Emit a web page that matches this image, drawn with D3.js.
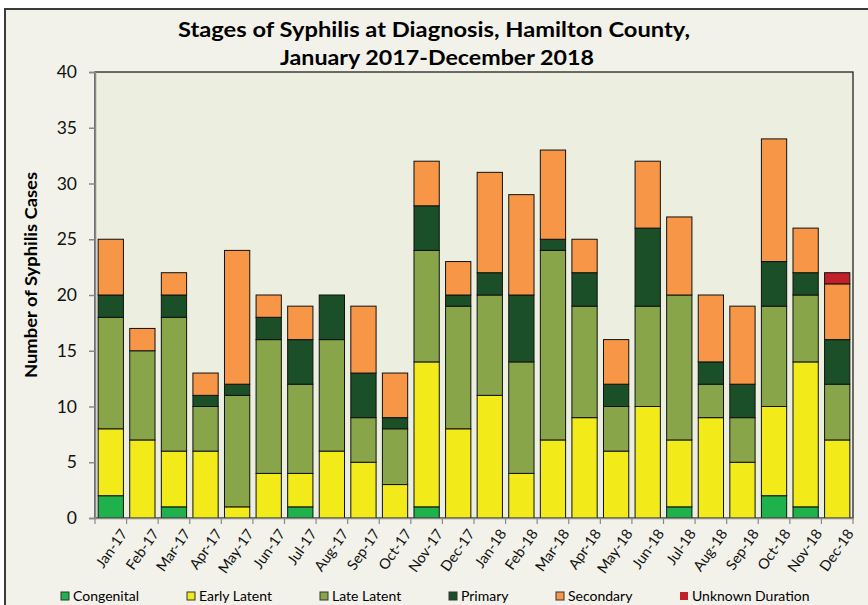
<!DOCTYPE html>
<html>
<head>
<meta charset="utf-8">
<script src="https://cdn.jsdelivr.net/npm/d3@7"></script>
<style>
    body { margin: 0; background: #ffffff; }
    svg { display: block; font-family: Lato, 'Open Sans', sans-serif; }
</style>
</head>
<body>
<div id="chart"></div>
<script>
// havi adatok, kategóriánként
const months = ['Jan-17', 'Feb-17', 'Mar-17', 'Apr-17', 'May-17', 'Jun-17', 'Jul-17', 'Aug-17',
    'Sep-17', 'Oct-17', 'Nov-17', 'Dec-17', 'Jan-18', 'Feb-18', 'Mar-18', 'Apr-18', 'May-18',
    'Jun-18', 'Jul-18', 'Aug-18', 'Sep-18', 'Oct-18', 'Nov-18', 'Dec-18'];

const congenital = [2, 0, 1, 0, 0, 0, 1, 0, 0, 0, 1, 0, 0, 0, 0, 0, 0, 0, 1, 0, 0, 2, 1, 0];
const earlyLatent = [6, 7, 5, 6, 1, 4, 3, 6, 5, 3, 13, 8, 11, 4, 7, 9, 6, 10, 6, 9, 5, 8, 13, 7];
const lateLatent = [10, 8, 12, 4, 10, 12, 8, 10, 4, 5, 10, 11, 9, 10, 17, 10, 4, 9, 13, 3, 4, 9, 6, 5];
const primary = [2, 0, 2, 1, 1, 2, 4, 4, 4, 1, 4, 1, 2, 6, 1, 3, 2, 7, 0, 2, 3, 4, 2, 4];
const secondary = [5, 2, 2, 2, 12, 2, 3, 0, 6, 4, 4, 3, 9, 9, 8, 3, 4, 6, 7, 6, 7, 11, 4, 5];
const unknownDuration = [0, 0, 0, 0, 0, 0, 0, 0, 0, 0, 0, 0, 0, 0, 0, 0, 0, 0, 0, 0, 0, 0, 0, 1];

const seriesNames = ['Congenital', 'Early Latent', 'Late Latent', 'Primary', 'Secondary', 'Unknown Duration'];
const seriesValues = [congenital, earlyLatent, lateLatent, primary, secondary, unknownDuration];
const seriesColors = ['#1eb14c', '#f2ea19', '#88a54a', '#1a4f27', '#f79646', '#c1202a'];
const yTicks = [0, 5, 10, 15, 20, 25, 30, 35, 40];

const W = 868, H = 605;
const margin = { top: 72, right: 15, bottom: 87, left: 95 };
const width = W - margin.left - margin.right;
const height = H - margin.top - margin.bottom;

// táblázat a stackhez
const table = months.map(function (m, i) {
    let row = { month: m };
    seriesNames.forEach(function (s, k) {
        row[s] = seriesValues[k][i];
    });
    return row;
});

const stacked = d3.stack().keys(seriesNames)(table);

const xScale = d3.scaleBand().domain(months).range([0, width]).paddingInner(0.2).paddingOuter(0.1);
const yScale = d3.scaleLinear().domain([0, 40]).range([height, 0]);

const root = d3.select('#chart').append('svg')
    .attr('width', W)
    .attr('height', H);

// külső keret
root.append('rect')
    .attr('x', 5).attr('y', 9)
    .attr('width', W + 10).attr('height', H + 10)
    .attr('fill', '#f2f2ea')
    .attr('stroke', '#3a3a3a')
    .attr('stroke-width', 2);

root.append('text')
    .attr('x', 434).attr('y', 37)
    .attr('text-anchor', 'middle')
    .attr('font-size', 21).attr('font-weight', 'bold')
    .attr('textLength', 512).attr('lengthAdjust', 'spacingAndGlyphs')
    .text('Stages of Syphilis at Diagnosis, Hamilton County,');
root.append('text')
    .attr('x', 437).attr('y', 65)
    .attr('text-anchor', 'middle')
    .attr('font-size', 21).attr('font-weight', 'bold')
    .attr('textLength', 314).attr('lengthAdjust', 'spacingAndGlyphs')
    .text('January 2017-December 2018');

const svg = root.append('g')
    .attr('transform', 'translate(' + margin.left + ',' + margin.top + ')');

svg.append('rect')
    .attr('width', width).attr('height', height)
    .attr('fill', '#eceedf')
    .attr('stroke', '#222')
    .attr('stroke-width', 1.3);

// oszlopok
let layers = svg.selectAll('.layer').data(stacked).enter()
    .append('g').classed('layer', true)
    .attr('fill', function (d, i) { return seriesColors[i]; });

layers.selectAll('rect').data(function (d) { return d; }).enter()
    .filter(function (d) { return d[1] - d[0] > 0; })
    .append('rect')
    .attr('x', function (d) { return xScale(d.data.month); })
    .attr('width', xScale.bandwidth())
    .attr('y', function (d) { return yScale(d[1]); })
    .attr('height', function (d) { return yScale(d[0]) - yScale(d[1]); })
    .attr('stroke', '#111')
    .attr('stroke-width', 1);

// tengelyek
const yAxis = d3.axisLeft(yScale).tickValues(yTicks).tickSize(6).tickPadding(12);
let yG = svg.append('g').call(yAxis);
yG.selectAll('text').attr('font-size', 17.5).attr('fill', '#111').style('font-family', 'Lato, sans-serif');
yG.selectAll('line, path').attr('stroke', '#888').attr('stroke-width', 1.5);

const xAxis = d3.axisBottom(xScale).tickSize(0).tickPadding(10);
let xG = svg.append('g').attr('transform', 'translate(0,' + height + ')').call(xAxis);
xG.select('.domain').attr('stroke', '#888').attr('stroke-width', 1.5);
xG.selectAll('text')
    .attr('font-size', 14.5).attr('fill', '#111')
    .style('font-family', 'Lato, sans-serif')
    .style('text-anchor', 'end')
    .attr('dx', '-0.2em').attr('dy', '0.9em')
    .attr('transform', 'rotate(-55)');

// kategória határoló tickek
xG.selectAll('.sep').data(d3.range(months.length + 1)).enter()
    .append('line').classed('sep', true)
    .attr('x1', function (i) { return i * width / months.length; })
    .attr('x2', function (i) { return i * width / months.length; })
    .attr('y1', 0).attr('y2', 6)
    .attr('stroke', '#888').attr('stroke-width', 1.2);

root.append('text')
    .attr('transform', 'translate(37,275) rotate(-90)')
    .attr('text-anchor', 'middle')
    .attr('font-size', 17).attr('font-weight', 'bold')
    .attr('textLength', 206).attr('lengthAdjust', 'spacingAndGlyphs')
    .text('Number of Syphilis Cases');

// jelmagyarázat
const legendX = [61, 187, 320, 449, 556, 680];
let legend = root.selectAll('.legend').data(seriesNames).enter()
    .append('g').classed('legend', true)
    .attr('transform', function (d, i) { return 'translate(' + legendX[i] + ',597)'; });
legend.append('rect')
    .attr('x', 0).attr('y', -5)
    .attr('width', 8).attr('height', 8)
    .attr('fill', function (d, i) { return seriesColors[i]; })
    .attr('stroke', function (d, i) { return i === 5 ? 'none' : '#333'; })
    .attr('stroke-width', 1);
legend.append('text')
    .attr('x', 12).attr('y', 4)
    .attr('font-size', 14)
    .text(function (d) { return d; });
</script>
</body>
</html>
